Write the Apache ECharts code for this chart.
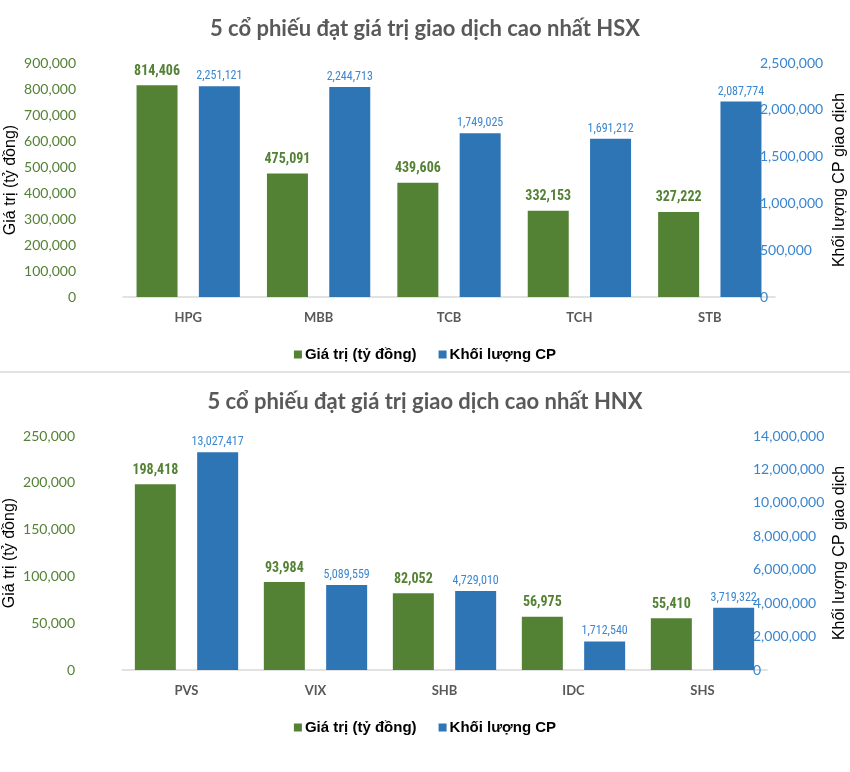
<!DOCTYPE html>
<html><head><meta charset="utf-8">
<script src="https://cdn.jsdelivr.net/npm/echarts@6/dist/echarts.min.js"></script>
<style>
html,body{margin:0;padding:0;background:#fff;width:850px;height:772px;overflow:hidden;}
#c1{position:absolute;left:0;top:0;width:850px;height:371px;}
#sep{position:absolute;left:0;top:371px;width:850px;height:2px;background:#e3e3e3;}
#c2{position:absolute;left:0;top:373px;width:850px;height:399px;}
</style></head>
<body>
<div id="c1"></div><div id="sep"></div><div id="c2"></div>
<script>
const hsxTitle = '5 cổ phiếu đạt giá trị giao dịch cao nhất HSX';
const hsxCategories = ['HPG','MBB','TCB','TCH','STB'];
const hsxValue = [814406, 475091, 439606, 332153, 327222];
const hsxVolume = [2251121, 2244713, 1749025, 1691212, 2087774];
const hsxLeftMax = 900000, hsxLeftStep = 100000;
const hsxRightMax = 2500000, hsxRightStep = 500000;

const hnxTitle = '5 cổ phiếu đạt giá trị giao dịch cao nhất HNX';
const hnxCategories = ['PVS','VIX','SHB','IDC','SHS'];
const hnxValue = [198418, 93984, 82052, 56975, 55410];
const hnxVolume = [13027417, 5089559, 4729010, 1712540, 3719322];
const hnxLeftMax = 250000, hnxLeftStep = 50000;
const hnxRightMax = 14000000, hnxRightStep = 2000000;

const seriesNames = ['Giá trị (tỷ đồng)', 'Khối lượng CP'];
const leftAxisName = 'Giá trị (tỷ đồng)';
const rightAxisName = 'Khối lượng CP giao dịch';

const GREEN = '#548235', BLUE = '#2E75B6', AXBLUE = '#3a86d0';
const NARROW = "'Liberation Sans Narrow','Roboto Condensed','DejaVu Sans Condensed',sans-serif";
const fmt = v => Number(v).toLocaleString('en-US');

function build(title, cats, vals, vols, lmax, lstep, rmax, rstep, gl, gr, roff, rgap) {
  return {
    animation: false,
    title: { text: title, left: 'center', top: 13,
      textStyle: { fontFamily: 'Lato', fontWeight: 'bold', fontSize: 22, color: '#595959' } },
    legend: { data: seriesNames, top: 342, left: 'center', itemWidth: 8, itemHeight: 8, itemGap: 22,
      icon: 'rect',
      textStyle: { fontFamily: 'Liberation Sans', fontWeight: 'bold', fontSize: 15, color: '#000', padding: [0,0,0,-2] } },
    grid: { left: gl, right: gr, top: 63, height: 234, outerBoundsMode: 'none', containLabel: false },
    xAxis: { type: 'category', data: cats,
      axisLine: { lineStyle: { color: '#d9d9d9', width: 1.5 } }, axisTick: { show: false },
      axisLabel: { margin: 14, fontFamily: 'Lato', fontWeight: 'bold', fontSize: 13, color: '#595959' } },
    yAxis: [
      { type: 'value', min: 0, max: lmax, interval: lstep, position: 'left',
        name: leftAxisName, nameLocation: 'middle', nameGap: 104, nameMoveOverlap: false,
        nameTextStyle: { fontFamily: 'Liberation Sans', fontSize: 16, color: '#000' },
        splitLine: { show: false }, axisLine: { show: false }, axisTick: { show: false },
        axisLabel: { margin: 47, formatter: fmt, fontFamily: 'Lato', fontSize: 14, color: GREEN } },
      { type: 'value', min: 0, max: rmax, interval: rstep, position: 'right', offset: roff,
        name: rightAxisName, nameLocation: 'middle', nameGap: rgap, nameMoveOverlap: false,
        nameTextStyle: { fontFamily: 'Liberation Sans', fontSize: 16, color: '#000' },
        splitLine: { show: false }, axisLine: { show: false }, axisTick: { show: false },
        axisLabel: { margin: 3, formatter: fmt, fontFamily: 'Lato', fontSize: 14, color: AXBLUE } }
    ],
    series: [
      { name: seriesNames[0], type: 'bar', yAxisIndex: 0, data: vals, barWidth: 41, barGap: '52%',
        itemStyle: { color: GREEN },
        label: { show: true, position: 'top', distance: 7, formatter: p => fmt(p.value),
          fontFamily: NARROW, fontWeight: 'bold', fontSize: 14, color: GREEN } },
      { name: seriesNames[1], type: 'bar', yAxisIndex: 1, data: vols, barWidth: 41,
        itemStyle: { color: BLUE },
        label: { show: true, position: 'top', distance: 4, formatter: p => fmt(p.value),
          fontFamily: NARROW, fontSize: 12, color: AXBLUE } }
    ]
  };
}

echarts.init(document.getElementById('c1')).setOption(
  build(hsxTitle, hsxCategories, hsxValue, hsxVolume, hsxLeftMax, hsxLeftStep, hsxRightMax, hsxRightStep, 123, 75, -18, 75));
echarts.init(document.getElementById('c2')).setOption(
  build(hnxTitle, hnxCategories, hnxValue, hnxVolume, hnxLeftMax, hnxLeftStep, hnxRightMax, hnxRightStep, 122, 83, -17, 82));
</script>
</body></html>
